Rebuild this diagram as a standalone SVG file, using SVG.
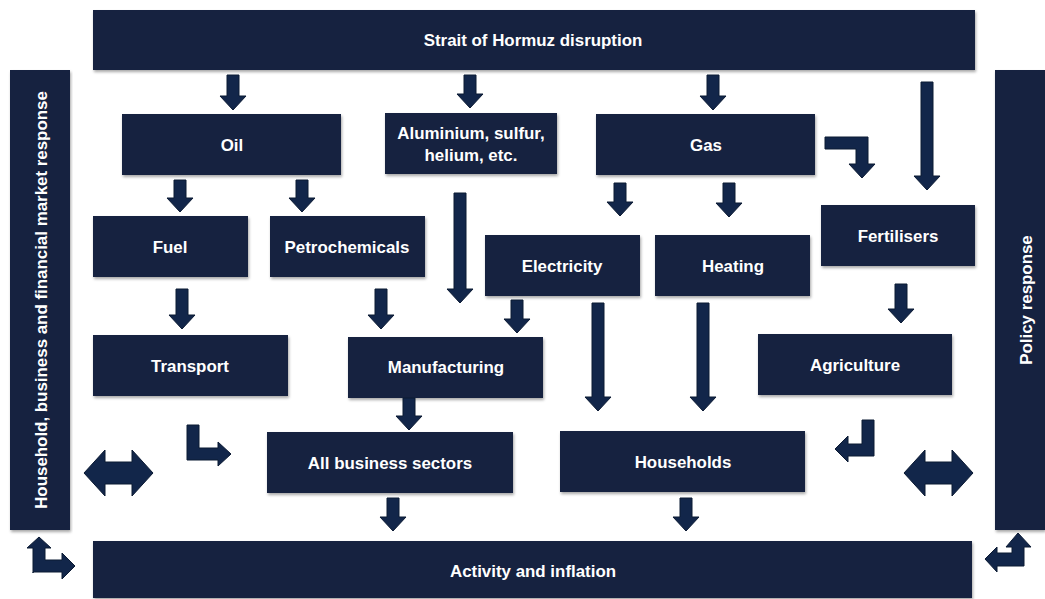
<svg xmlns="http://www.w3.org/2000/svg" width="1045" height="599" viewBox="0 0 1045 599">
  <style>
    .box { fill: #13243F; filter: url(#sh); }
    .lbl { fill: #FFFFFF; font-family: "Liberation Sans", Arial, sans-serif; font-weight: bold; font-size: 16.9px; text-anchor: middle; dominant-baseline: central; }
    .arr { fill: #12264A; stroke: #0B1A33; stroke-width: 1; stroke-linejoin: miter; }
  </style>
  <defs>
    <filter id="sh" x="-5%" y="-5%" width="110%" height="120%">
      <feGaussianBlur in="SourceAlpha" stdDeviation="1.5"/>
      <feOffset dx="1" dy="2" result="b"/>
      <feComponentTransfer><feFuncA type="linear" slope="0.35"/></feComponentTransfer>
      <feMerge><feMergeNode/><feMergeNode in="SourceGraphic"/></feMerge>
    </filter>
  </defs>
  <rect width="1045" height="599" fill="#FFFFFF"/>

  <g id="hormuz"><rect class="box" x="93" y="10" width="882" height="60"/><text class="lbl" x="533" y="40">Strait of Hormuz disruption</text></g>
  <g id="market-response"><rect class="box" x="10" y="70" width="60" height="460"/><text class="lbl" transform="translate(41,300) rotate(-90)">Household, business and financial market response</text></g>
  <g id="policy-response"><rect class="box" x="995" y="70" width="50" height="460"/><text class="lbl" transform="translate(1026,300) rotate(-90)">Policy response</text></g>
  <g id="activity"><rect class="box" x="93" y="541" width="879" height="57"/><text class="lbl" x="533" y="571">Activity and inflation</text></g>

  <g id="oil"><rect class="box" x="122" y="114" width="219" height="61"/><text class="lbl" x="232" y="145">Oil</text></g>
  <g id="aluminium"><rect class="box" x="385" y="113" width="172" height="61"/><text class="lbl" x="471" y="133">Aluminium, sulfur,</text><text class="lbl" x="471" y="155">helium, etc.</text></g>
  <g id="gas"><rect class="box" x="596" y="114" width="219" height="61"/><text class="lbl" x="706" y="145">Gas</text></g>
  <g id="fuel"><rect class="box" x="93" y="216" width="155" height="61"/><text class="lbl" x="170" y="247">Fuel</text></g>
  <g id="petrochemicals"><rect class="box" x="270" y="216" width="155" height="61"/><text class="lbl" x="347" y="247">Petrochemicals</text></g>
  <g id="electricity"><rect class="box" x="485" y="235" width="155" height="61"/><text class="lbl" x="562" y="266">Electricity</text></g>
  <g id="heating"><rect class="box" x="655" y="235" width="155" height="61"/><text class="lbl" x="733" y="266">Heating</text></g>
  <g id="fertilisers"><rect class="box" x="821" y="205" width="154" height="61"/><text class="lbl" x="898" y="236">Fertilisers</text></g>
  <g id="transport"><rect class="box" x="93" y="335" width="195" height="61"/><text class="lbl" x="190" y="366">Transport</text></g>
  <g id="manufacturing"><rect class="box" x="348" y="337" width="195" height="61"/><text class="lbl" x="446" y="367">Manufacturing</text></g>
  <g id="agriculture"><rect class="box" x="758" y="334" width="194" height="61"/><text class="lbl" x="855" y="365">Agriculture</text></g>
  <g id="business-sectors"><rect class="box" x="267" y="432" width="246" height="61"/><text class="lbl" x="390" y="463">All business sectors</text></g>
  <g id="households"><rect class="box" x="560" y="431" width="245" height="61"/><text class="lbl" x="683" y="462">Households</text></g>

  <g id="connectors">
    <!-- straight down arrows -->
    <path class="arr" d="M227,75 H239 V96 H246 L233,110 L220,96 H227 Z"/>
    <path class="arr" d="M464,75 H476 V94 H483 L470,108 L457,94 H464 Z"/>
    <path class="arr" d="M707,75 H719 V96 H726 L713,110 L700,96 H707 Z"/>
    <path class="arr" d="M921,82 H933 V176 H940 L927,190 L914,176 H921 Z"/>
    <path class="arr" d="M174,180 H186 V198 H193 L180,212 L167,198 H174 Z"/>
    <path class="arr" d="M296,180 H308 V198 H315 L302,212 L289,198 H296 Z"/>
    <path class="arr" d="M454,193 H466 V289 H473 L460,303 L447,289 H454 Z"/>
    <path class="arr" d="M614,183 H626 V202 H633 L620,216 L607,202 H614 Z"/>
    <path class="arr" d="M723,183 H735 V203 H742 L729,217 L716,203 H723 Z"/>
    <path class="arr" d="M176,289 H188 V315 H195 L182,329 L169,315 H176 Z"/>
    <path class="arr" d="M375,289 H387 V315 H394 L381,329 L368,315 H375 Z"/>
    <path class="arr" d="M511,300 H523 V319 H530 L517,333 L504,319 H511 Z"/>
    <path class="arr" d="M592,303 H604 V397 H611 L598,411 L585,397 H592 Z"/>
    <path class="arr" d="M697,303 H709 V397 H716 L703,411 L690,397 H697 Z"/>
    <path class="arr" d="M895,284 H907 V309 H914 L901,323 L888,309 H895 Z"/>
    <path class="arr" d="M403,398 H415 V416 H422 L409,430 L396,416 H403 Z"/>
    <path class="arr" d="M387,498 H399 V517 H406 L393,531 L380,517 H387 Z"/>
    <path class="arr" d="M680,498 H692 V517 H699 L686,531 L673,517 H680 Z"/>
    <!-- bent arrows -->
    <path class="arr" d="M825,137 H868 V164 H875 L862,178 L849,164 H856 V149 H825 Z"/>
    <path class="arr" d="M187,425 H199 V448 H218 V442 L231,454 L218,466 V460 H187 Z"/>
    <path class="arr" d="M862,420 H874 V456 H848 V462 L835,449 L848,436 V444 H862 Z"/>
    <path class="arr" d="M33,573 V548 H27 L39,537 L51,548 H45 V560 H62 V553 L75,566 L62,579 V572 H33 Z"/>
    <path class="arr" d="M1024,566 V547 H1031 L1018,533 L1006,547 H1012 V553 H997 V547 L985,559 L997,572 V566 Z"/>
    <!-- two-way arrows -->
    <path class="arr" d="M84,473 L105,450 V462 H132 V450 L153,473 L132,496 V484 H105 V496 Z"/>
    <path class="arr" d="M904,473 L925,450 V462 H952 V450 L973,473 L952,496 V484 H925 V496 Z"/>
  </g>
</svg>
